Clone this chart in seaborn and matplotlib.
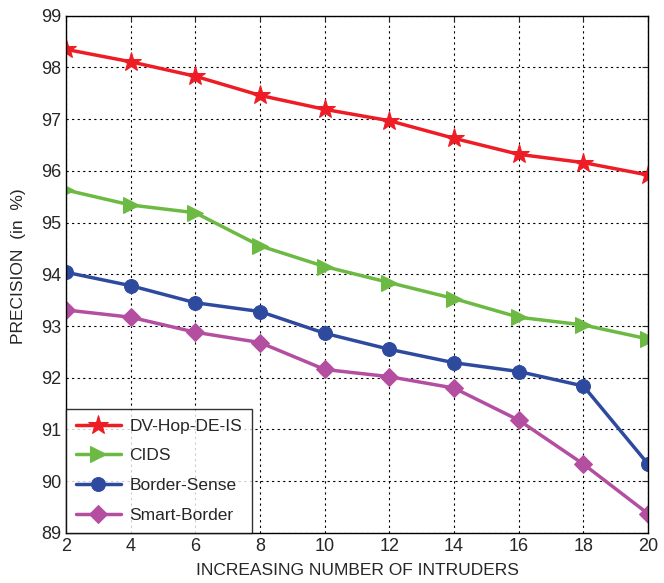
import matplotlib
matplotlib.use("Agg")
import matplotlib.pyplot as plt
import seaborn as sns
import pandas as pd

intruders = [2, 4, 6, 8, 10, 12, 14, 16, 18, 20]
dv_hop = [98.35, 98.11, 97.83, 97.46, 97.19, 96.97, 96.63, 96.32, 96.16, 95.92]
cids = [95.63, 95.34, 95.19, 94.55, 94.15, 93.84, 93.53, 93.17, 93.02, 92.75]
border_sense = [94.04, 93.78, 93.45, 93.28, 92.86, 92.55, 92.29, 92.12, 91.84, 90.33]
smart_border = [93.31, 93.17, 92.88, 92.68, 92.16, 92.02, 91.80, 91.18, 90.33, 89.37]
series_names = ["DV-Hop-DE-IS", "CIDS", "Border-Sense", "Smart-Border"]
x_ticks = [2, 4, 6, 8, 10, 12, 14, 16, 18, 20]
y_ticks = [89, 90, 91, 92, 93, 94, 95, 96, 97, 98, 99]

sns.set_style("white")
plt.rcParams['font.family'] = ['Liberation Sans', 'DejaVu Sans']

df = pd.DataFrame({
    "x": intruders * 4,
    "y": dv_hop + cids + border_sense + smart_border,
    "series": sum([[n] * len(intruders) for n in series_names], []),
})

colors = ["#ee1c24", "#6cb944", "#2e4a9e", "#b44ea0"]
markers = ["*", ">", "o", "D"]
msizes = [15, 12, 10, 9]

fig = plt.figure(figsize=(6.64, 5.83), dpi=100)
ax = fig.add_axes([0.0994, 0.086, 0.8766, 0.887])

for name, c, m, ms in zip(series_names, colors, markers, msizes):
    sub = df[df["series"] == name]
    sns.lineplot(data=sub, x="x", y="y", ax=ax, color=c, marker=m,
                 markersize=ms, markeredgecolor=c, linewidth=2.5, label=name)

ax.set_xlim(2, 20)
ax.set_ylim(89, 99)
ax.set_xticks(x_ticks)
ax.set_yticks(y_ticks)
ax.tick_params(axis='both', direction='in', labelsize=13, top=True, right=True, length=4)
ax.grid(True, color="black", linestyle=(0, (2, 3)), linewidth=0.8)
for s in ax.spines.values():
    s.set_color("black")
    s.set_linewidth(1.0)
ax.set_xlabel("INCREASING NUMBER OF INTRUDERS", fontsize=12.5, labelpad=6)
ax.set_ylabel("PRECISION  (in  %)", fontsize=12.5, labelpad=10)
ax.yaxis.set_label_coords(-0.068, 0.515)

leg = ax.legend(loc="lower left", bbox_to_anchor=(0, 0), borderaxespad=0,
                fontsize=12.5, frameon=True, fancybox=False, handlelength=2.6,
                handletextpad=0.5, labelspacing=0.85, borderpad=0.55)
leg.get_frame().set_edgecolor("black")
leg.get_frame().set_linewidth(1.0)

fig.savefig("out.png", dpi=100)
